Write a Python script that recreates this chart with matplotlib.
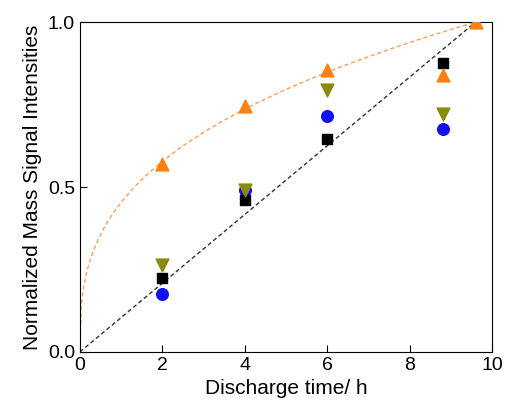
import numpy as np
import matplotlib
matplotlib.use("Agg")
import matplotlib.pyplot as plt

t = [2, 4, 6, 8.8, 9.6]
orange = [0.57, 0.745, 0.855, 0.84, 1.0]
olive = [0.265, 0.49, 0.795, 0.72, 1.0]
t4 = [2, 4, 6, 8.8]
blue = [0.175, 0.49, 0.715, 0.675]
black = [0.225, 0.46, 0.645, 0.875]
t_end = 9.6
fit_exp = 0.35

plt.rcParams['font.family'] = ['Liberation Sans', 'DejaVu Sans']
fig = plt.figure(figsize=(5.12, 4.18), dpi=100)
ax = fig.add_axes([0.156, 0.158, 0.805, 0.789])

ax.plot([0, t_end], [0, 1], ls=(0, (3, 2)), color='#333333', lw=1)
tt = np.linspace(0, t_end, 300)
ax.plot(tt, (tt / t_end) ** fit_exp, ls=(0, (3, 2)), color='#f5a05a', lw=1)

ax.scatter(t4, blue, marker='o', s=70, color='#1010f0', zorder=3)
ax.scatter(t4, black, marker='s', s=60, color='black', zorder=3)
ax.scatter(t, olive, marker='v', s=85, color='#8a8a10', zorder=3)
ax.scatter(t, orange, marker='^', s=85, color='#ff8010', zorder=3)

ax.set_xlim(0, 10)
ax.set_ylim(0, 1)
ax.set_xticks([0, 2, 4, 6, 8, 10])
ax.set_yticks([0.0, 0.5, 1.0])
ax.tick_params(direction='in', labelsize=14, length=5)
ax.set_xlabel('Discharge time/ h', fontsize=15)
ax.set_ylabel('Normalized Mass Signal Intensities', fontsize=15)
fig.savefig('out.png')
